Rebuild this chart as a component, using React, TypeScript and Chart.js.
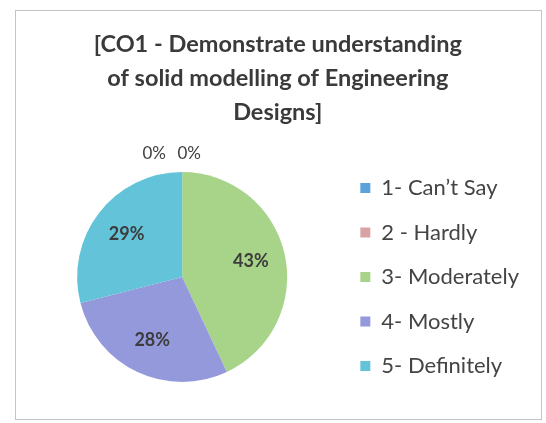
import React, { useEffect, useRef } from "react";
import { Chart, registerables } from "chart.js";

Chart.register(...registerables);

const titleLines = [
  "[CO1 - Demonstrate understanding",
  "of solid modelling of Engineering",
  "Designs]",
];
const categories = ["1- Can\u2019t Say", "2 - Hardly", "3- Moderately", "4- Mostly", "5- Definitely"];
const percentages = [0, 0, 43, 28, 29];
const sliceColors = ["#5aa2d9", "#d9a3a3", "#a8d48a", "#9499dc", "#62c3d9"];

const FONT = "Lato, 'Open Sans', sans-serif";

const pctLabelPlugin = {
  id: "pctLabels",
  afterDatasetsDraw(chart: any) {
    const ctx = chart.ctx;
    const meta = chart.getDatasetMeta(0);
    const values = chart.data.datasets[0].data as number[];
    const total = values.reduce((a, b) => a + b, 0);
    ctx.save();
    ctx.textAlign = "center";
    ctx.textBaseline = "middle";
    let zeroIdx = 0;
    meta.data.forEach((arc: any, i: number) => {
      const v = values[i];
      const p = arc.getProps(["x", "y", "startAngle", "endAngle", "outerRadius"], true);
      const mid = (p.startAngle + p.endAngle) / 2;
      const text = Math.round((v / total) * 100) + "%";
      if (v === 0) {
        ctx.font = `17px ${FONT}`;
        ctx.fillStyle = "#404040";
        const lx = p.x + Math.cos(mid) * p.outerRadius + (zeroIdx - 0.8) * 35;
        const ly = p.y + Math.sin(mid) * p.outerRadius - 18;
        ctx.fillText(text, lx, ly);
        zeroIdx++;
      } else {
        const r = p.outerRadius * 0.67;
        ctx.font = `bold 18px ${FONT}`;
        ctx.fillStyle = "#3c3c3c";
        ctx.fillText(text, p.x + Math.cos(mid) * r, p.y + Math.sin(mid) * r);
      }
    });
    ctx.restore();
  },
};

export default function App() {
  const canvasRef = useRef<HTMLCanvasElement | null>(null);

  useEffect(() => {
    if (!canvasRef.current) return;
    const chart = new Chart(canvasRef.current, {
      type: "pie",
      data: {
        labels: categories,
        datasets: [
          {
            data: percentages,
            backgroundColor: sliceColors,
            borderWidth: 0,
            radius: 105,
          },
        ],
      },
      options: {
        responsive: false,
        animation: false,
        layout: { padding: { left: 26.5, right: 17, top: 0, bottom: 21 } },
        plugins: {
          title: {
            display: true,
            text: titleLines,
            color: "#3a3a3a",
            font: { family: FONT, size: 23.5, weight: "bold", lineHeight: 34 / 23.5 },
            padding: { top: 27, bottom: 23 },
          },
          legend: {
            display: true,
            position: "right",
            align: "center",
            fullSize: false,
            labels: {
              boxWidth: 10,
              boxHeight: 10,
              padding: 22.5,
              color: "#444444",
              font: { family: FONT, size: 22 },
            },
          },
          tooltip: { enabled: false },
        },
      },
      plugins: [pctLabelPlugin],
    });
    return () => chart.destroy();
  }, []);

  return (
    <div style={{ position: "absolute", left: 0, top: 0, width: 546, height: 423, background: "#fff" }}>
      <div
        style={{
          position: "absolute",
          left: 15,
          top: 10,
          width: 527,
          height: 410,
          border: "1px solid #c4c4c4",
          boxSizing: "border-box",
        }}
      />
      <canvas ref={canvasRef} width={546} height={423} style={{ position: "absolute", left: 0, top: 0 }} />
    </div>
  );
}
